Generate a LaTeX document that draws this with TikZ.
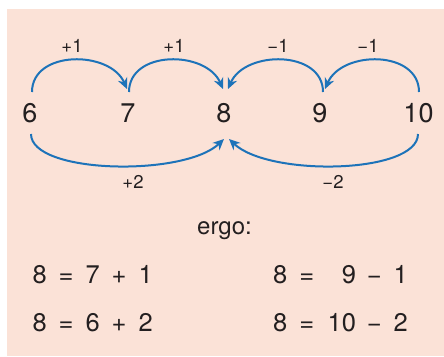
\documentclass[tikz,border=0pt]{standalone}
\usepackage{fontspec}
\setmainfont{TeX Gyre Heros}
\usetikzlibrary{arrows.meta}
\definecolor{bgpink}{HTML}{FBE2D7}
\definecolor{arcblue}{HTML}{1D73B9}
\definecolor{inkgray}{HTML}{231F20}
\newcommand\eqL[5]{\makebox[26.5pt]{#1}\makebox[26.5pt]{#2}\makebox[26.5pt]{#3}\makebox[26.5pt]{#4}\makebox[26.5pt]{#5}}
\newcommand\eqR[5]{\makebox[26.5pt]{#1}\makebox[26.5pt]{#2}\makebox[41pt][r]{#3\kern5pt}\makebox[26.5pt]{#4}\makebox[26.5pt]{#5}}
\tikzset{
  num/.style={font=\fontsize{27}{30}\selectfont, text=inkgray, inner sep=0pt, anchor=base},
  lbl/.style={font=\fontsize{18.5}{21}\selectfont, text=inkgray, inner sep=0pt, anchor=base},
  ergotext/.style={font=\fontsize{24}{28}\selectfont, text=inkgray, inner sep=0pt, anchor=base},
  eqn/.style={font=\fontsize{25.5}{30}\selectfont, text=inkgray, inner sep=0pt, anchor=base west},
  hop/.style={draw=arcblue, line width=2pt, -{Stealth[length=11pt,width=10pt,inset=3.5pt]}}
}
\begin{document}
\begin{tikzpicture}[x=1pt,y=-1pt]
\useasboundingbox (0,0) rectangle (444,356);
\fill[bgpink] (7,8.5) rectangle (444,356);

\node[num] (n6) at (30,122.5) {6};
\node[num] (n7) at (128,122.5) {7};
\node[num] (n8) at (224,122.5) {8};
\node[num] (n9) at (320,122.5) {9};
\node[num] (n10) at (418.5,122.5) {10};

% top hops
\draw[hop] ([xshift=2pt,yshift=30.5pt]n6.base) .. controls +(0,-42) and +(-17,-39) .. ([xshift=-1pt,yshift=33.5pt]n7.base);
\draw[hop] ([xshift=1pt,yshift=30.5pt]n7.base) .. controls +(0,-42) and +(-17,-39) .. ([xshift=-1pt,yshift=33.5pt]n8.base);
\draw[hop] ([xshift=3pt,yshift=30.5pt]n9.base) .. controls +(0,-42) and +(17,-39) .. ([xshift=4pt,yshift=33.5pt]n8.base);
\draw[hop] ([xshift=0.5pt,yshift=30.5pt]n10.base) .. controls +(0,-42) and +(17,-39) .. ([xshift=5pt,yshift=33.5pt]n9.base);

% bottom hops
\draw[hop] ([xshift=1pt,yshift=-11.5pt]n6.base) .. controls +(0,40) and +(-40,38) .. ([yshift=-16.5pt]n8.base);
\draw[hop] ([xshift=-0.5pt,yshift=-11.5pt]n10.base) .. controls +(0,40) and +(40,38) .. ([xshift=5pt,yshift=-16.5pt]n8.base);

% labels
\node[lbl] (a1) at (72,52) {+1};
\node[lbl] (a2) at (174,52) {+1};
\node[lbl] (a3) at (278,52) {−1};
\node[lbl] (a4) at (368,52) {−1};
\node[lbl] (b1) at (133,188) {+2};
\node[lbl] (b2) at (333,188) {−2};

\node[ergotext] (ergo) at (224.5,234) {ergo:};

\node[eqn] (e1) at (26.25,283) {\eqL{8}{=}{7}{+}{1}};
\node[eqn] (e2) at (26.25,331) {\eqL{8}{=}{6}{+}{2}};
\node[eqn] (e3) at (266.75,283) {\eqR{8}{=}{9}{−}{1}};
\node[eqn] (e4) at (266.75,331) {\eqR{8}{=}{10}{−}{2}};
\end{tikzpicture}
\end{document}
